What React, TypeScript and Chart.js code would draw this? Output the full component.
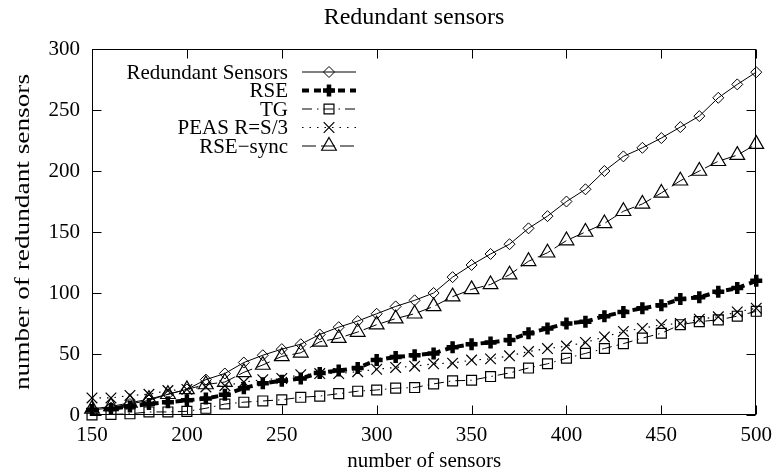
import React, { useEffect, useRef } from "react";
import { Chart, registerables } from "chart.js";

Chart.register(...registerables);

const sensors = [150, 160, 170, 180, 190, 200, 210, 220, 230, 240, 250, 260, 270, 280, 290, 300, 310, 320, 330, 340, 350, 360, 370, 380, 390, 400, 410, 420, 430, 440, 450, 460, 470, 480, 490, 500];
const redundantSensors = [4, 6, 9, 12, 17, 21, 29, 34, 43, 49, 54, 58, 66, 72, 77, 83, 89, 94, 100, 113, 123, 132, 140, 153, 163, 175, 185, 200, 212, 219, 227, 236, 245, 260, 271, 281];
const rse = [4, 5, 7, 9, 10.5, 12, 13.5, 16.5, 22, 26, 28, 30, 34.5, 36.5, 38.5, 45, 47.5, 49, 50.5, 55.5, 58, 59.5, 61.5, 67, 71, 75, 76.5, 81, 84.5, 87.5, 90, 95, 96.5, 101, 104, 110];
const tg = [0, 0.5, 1, 2.5, 2.5, 3, 5.5, 9, 10.5, 11.5, 12.5, 14.5, 15.5, 17.5, 19.5, 20.5, 22, 22.5, 25.5, 28, 28.5, 31.5, 34.5, 38.5, 42, 46.5, 50.5, 54.5, 58.5, 63, 67, 74, 76.5, 78, 81, 85];
const peas = [14, 14, 16, 17, 20, 21, 23, 24, 27, 29, 30, 33, 34, 34, 35.5, 37.5, 39, 40, 42, 42.5, 45, 46, 48.5, 52, 54.5, 56.5, 59.5, 64, 68.5, 71, 74, 75, 78.5, 80.5, 84.5, 87.5];
const rseSync = [5, 7, 10, 13, 17, 21, 25, 27, 35, 41, 48, 51, 60, 63, 68, 74, 79, 83, 89, 97, 103, 107, 115, 126, 133, 143, 150, 157, 167, 173, 182, 192, 200, 208, 213, 222];

const seriesLabels = ["Redundant Sensors", "RSE", "TG", "PEAS R=S/3", "RSE\u2212sync"];
const xTicks = [150, 200, 250, 300, 350, 400, 450, 500];
const yTicks = [0, 50, 100, 150, 200, 250, 300];
const titleText = "Redundant sensors";
const xLabel = "number of sensors";
const yLabel = "number of redundant sensors";

const FONT = '"Liberation Serif", "Times New Roman", serif';

function drawMarker(ctx: CanvasRenderingContext2D, style: string, x: number, y: number, r: number, lw: number) {
  ctx.save();
  ctx.lineWidth = lw;
  ctx.strokeStyle = "#000";
  ctx.setLineDash([]);
  ctx.beginPath();
  if (style === "rectRot") {
    ctx.moveTo(x, y - r); ctx.lineTo(x + r, y); ctx.lineTo(x, y + r); ctx.lineTo(x - r, y); ctx.closePath();
  } else if (style === "rect") {
    const s = r * Math.SQRT1_2;
    ctx.rect(x - s, y - s, 2 * s, 2 * s);
  } else if (style === "cross") {
    ctx.moveTo(x - r, y); ctx.lineTo(x + r, y); ctx.moveTo(x, y - r); ctx.lineTo(x, y + r);
  } else if (style === "crossRot") {
    const s = r * Math.SQRT1_2;
    ctx.moveTo(x - s, y - s); ctx.lineTo(x + s, y + s); ctx.moveTo(x - s, y + s); ctx.lineTo(x + s, y - s);
  } else if (style === "triangle") {
    for (let k = 0; k < 3; k++) {
      const a = (k * 2 * Math.PI) / 3;
      const px = x + Math.sin(a) * r, py = y - Math.cos(a) * r;
      if (k === 0) ctx.moveTo(px, py); else ctx.lineTo(px, py);
    }
    ctx.closePath();
  }
  ctx.stroke();
  ctx.restore();
}

const decorPlugin = {
  id: "gnuplotDecor",
  afterDraw(chart: any) {
    const { ctx, chartArea: a, scales } = chart;
    const xs = scales.x, ys = scales.y;
    ctx.save();
    ctx.strokeStyle = "#000";
    ctx.lineWidth = 1;
    ctx.setLineDash([]);
    const L = Math.round(a.left) + 0.5, R = Math.round(a.right) - 0.5;
    const T = Math.round(a.top) + 0.5, B = Math.round(a.bottom) - 0.5;
    ctx.strokeRect(L, T, R - L, B - T);
    const tl = 9;
    ctx.beginPath();
    xTicks.forEach((v) => {
      const px = Math.round(xs.getPixelForValue(v)) + 0.5;
      ctx.moveTo(px, B); ctx.lineTo(px, B - tl);
      ctx.moveTo(px, T); ctx.lineTo(px, T + tl);
    });
    yTicks.forEach((v) => {
      const py = Math.round(ys.getPixelForValue(v)) + 0.5;
      ctx.moveTo(L, py); ctx.lineTo(L + tl, py);
      ctx.moveTo(R, py); ctx.lineTo(R - tl, py);
    });
    ctx.stroke();

    ctx.fillStyle = "#000";
    ctx.textAlign = "center";
    ctx.textBaseline = "middle";
    ctx.font = `24px ${FONT}`;
    ctx.fillText(titleText, 414, 18);
    ctx.font = `21px ${FONT}`;
    ctx.fillText(xLabel, (a.left + a.right) / 2, 461);

    ctx.save();
    ctx.translate(23, (a.top + a.bottom) / 2);
    ctx.rotate(-Math.PI / 2);
    ctx.scale(1.3, 1);
    ctx.fillText(yLabel, 0, 0);
    ctx.restore();

    // legend
    chart.data.datasets.forEach((ds: any, i: number) => {
      const y = 72 + i * 18.5;
      ctx.textAlign = "right";
      ctx.fillText(ds.label, 288, y + 1);
      ctx.save();
      ctx.lineWidth = ds.borderWidth;
      ctx.setLineDash(ds.borderDash || []);
      ctx.beginPath();
      ctx.moveTo(302, y);
      ctx.lineTo(356, y);
      ctx.stroke();
      ctx.restore();
      drawMarker(ctx, ds.pointStyle, 329, y, ds.pointRadius, ds.pointBorderWidth);
    });
    ctx.restore();
  },
};

export default function App() {
  const ref = useRef<HTMLCanvasElement>(null);
  useEffect(() => {
    document.body.style.margin = "0";
    const mk = (arr: number[]) => sensors.map((x, i) => ({ x, y: arr[i] }));
    const chart = new Chart(ref.current!, {
      type: "line",
      data: {
        datasets: [
          { label: seriesLabels[0], data: mk(redundantSensors), borderColor: "#000", borderWidth: 1, borderDash: [], pointStyle: "rectRot", pointRadius: 5.5, pointBorderWidth: 1, pointBackgroundColor: "rgba(0,0,0,0)", pointBorderColor: "#000", clip: false } as any,
          { label: seriesLabels[1], data: mk(rse), borderColor: "#000", borderWidth: 4, borderDash: [7, 5], pointStyle: "cross", pointRadius: 6, pointBorderWidth: 4.5, pointBackgroundColor: "rgba(0,0,0,0)", pointBorderColor: "#000", clip: false } as any,
          { label: seriesLabels[2], data: mk(tg), borderColor: "#000", borderWidth: 1, borderDash: [10, 5, 1.5, 5], pointStyle: "rect", pointRadius: 7, pointBorderWidth: 1.2, pointBackgroundColor: "rgba(0,0,0,0)", pointBorderColor: "#000", clip: false } as any,
          { label: seriesLabels[3], data: mk(peas), borderColor: "#000", borderWidth: 1.2, borderDash: [1.5, 6], pointStyle: "crossRot", pointRadius: 7.5, pointBorderWidth: 1.2, pointBackgroundColor: "rgba(0,0,0,0)", pointBorderColor: "#000", clip: false } as any,
          { label: seriesLabels[4], data: mk(rseSync), borderColor: "#000", borderWidth: 1, borderDash: [14, 5], pointStyle: "triangle", pointRadius: 8.5, pointBorderWidth: 1.2, pointBackgroundColor: "rgba(0,0,0,0)", pointBorderColor: "#000", clip: false } as any,
        ],
      },
      options: {
        responsive: false,
        animation: false,
        devicePixelRatio: 1,
        events: [],
        layout: { padding: { top: 49, right: 20, left: 0, bottom: 0 } },
        plugins: { legend: { display: false }, title: { display: false }, tooltip: { enabled: false } },
        elements: { line: { tension: 0 } },
        scales: {
          x: {
            type: "linear",
            min: 150,
            max: 500,
            afterBuildTicks: (s: any) => { s.ticks = xTicks.map((v) => ({ value: v })); },
            afterFit: (s: any) => { s.height = 57; },
            grid: { display: false, drawTicks: false },
            border: { display: false },
            ticks: { color: "#000", font: { family: FONT, size: 21 }, padding: 8, maxRotation: 0, autoSkip: false },
          },
          y: {
            type: "linear",
            min: 0,
            max: 300,
            afterBuildTicks: (s: any) => { s.ticks = yTicks.map((v) => ({ value: v })); },
            afterFit: (s: any) => { s.width = 92; },
            grid: { display: false, drawTicks: false },
            border: { display: false },
            ticks: { color: "#000", font: { family: FONT, size: 21 }, padding: 12 },
          },
        },
      },
      plugins: [decorPlugin],
    });
    return () => chart.destroy();
  }, []);
  return (
    <div style={{ position: "absolute", left: 0, top: 0, width: 780, height: 472, background: "#fff" }}>
      <canvas ref={ref} width={780} height={472} />
    </div>
  );
}
